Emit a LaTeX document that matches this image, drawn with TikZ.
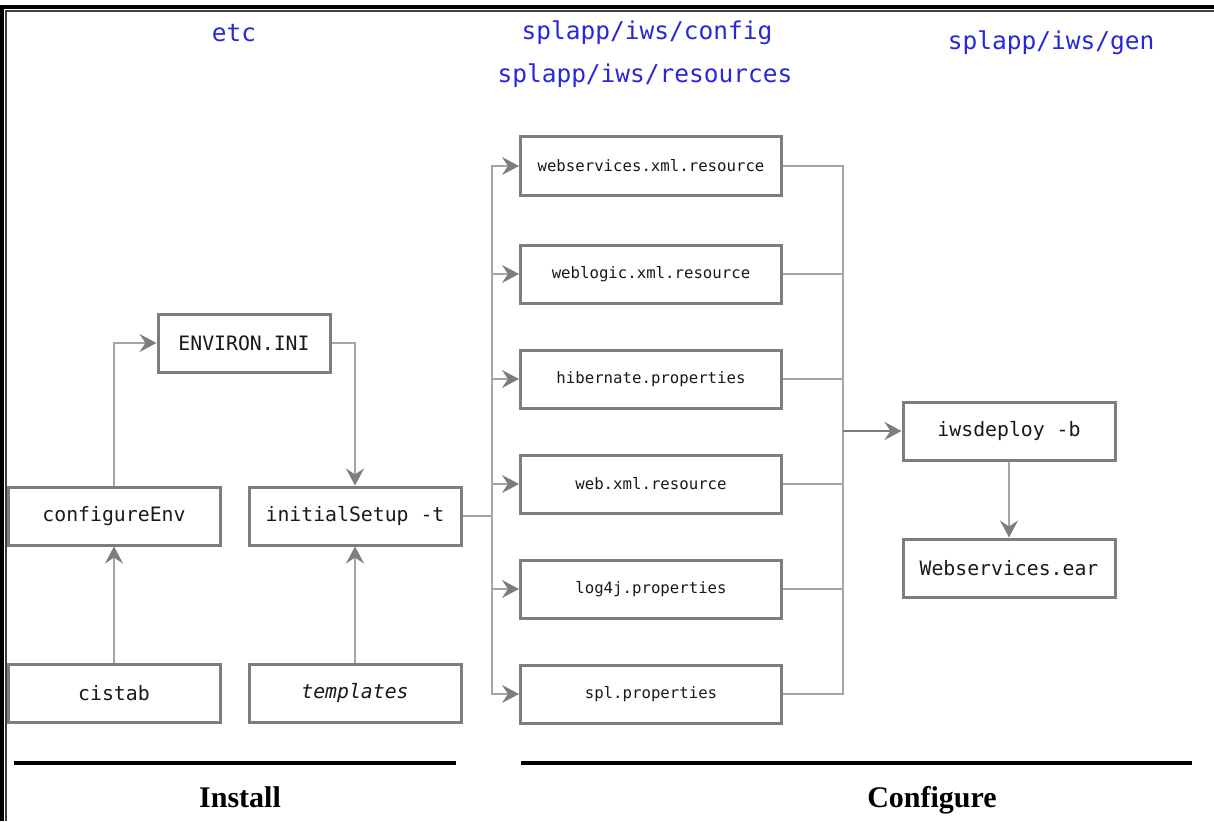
\documentclass[tikz,border=0pt]{standalone}
\usepackage{fontspec}
\setmainfont{Liberation Serif}
\newfontfamily\monofont{DejaVu Sans Mono}
\usetikzlibrary{arrows.meta}
\definecolor{boxgray}{RGB}{125,125,125}
\definecolor{linegray}{RGB}{165,165,165}
\definecolor{tipgray}{RGB}{125,125,125}
\definecolor{dirblue}{RGB}{40,40,215}
\definecolor{txt}{RGB}{25,25,25}
\tikzset{
  bigbox/.style={draw=boxgray, line width=3pt, fill=white, minimum width=212pt, minimum height=58pt, inner sep=0pt, text=txt, font=\monofont\fontsize{19.8}{24}\selectfont},
  smallbox/.style={draw=boxgray, line width=3pt, fill=white, minimum width=261pt, minimum height=58pt, inner sep=0pt, text=txt, font=\monofont\fontsize{15.7}{19}\selectfont},
  envbox/.style={bigbox, minimum width=172pt},
  conn/.style={draw=linegray, line width=2pt},
  arr/.style={conn, -{Stealth[length=17pt, width=18pt, inset=6pt, color=tipgray]}},
  dirlabel/.style={text=dirblue, font=\monofont\fontsize{24.5}{28}\selectfont, inner sep=0pt},
  phase/.style={font=\bfseries\fontsize{30}{34}\selectfont, inner sep=0pt, anchor=base},
  phasebar/.style={line width=4.5pt, black}
}
\begin{document}
\begin{tikzpicture}[x=1pt, y=-1pt]
\useasboundingbox (0,0) rectangle (1214,821);
% frame
\draw[line width=4pt, black] (0,7) -- (1214,7);
\draw[line width=4pt, black] (2,5) -- (2,821);
\draw[line width=2pt, black!75] (6,11) -- (1214,11);
\draw[line width=2pt, black!75] (6,10) -- (6,821);

% directory labels
\node[dirlabel] (letc) at (234,33) {etc};
\node[dirlabel] (lcfg) at (647,33) {splapp/iws/config};
\node[dirlabel] (lres) at (645,76) {splapp/iws/resources};
\node[dirlabel] (lgen) at (1051,43) {splapp/iws/gen};

% install column
\node[envbox] (env) at (244,343) {ENVIRON.INI};
\node[bigbox] (cfg) at (114,516) {configureEnv};
\node[bigbox] (init) at (355,516) {initialSetup -t};
\node[bigbox] (cis) at (114,693) {cistab};
\node[bigbox] (tpl) at (355,693) {\itshape templates};

% configure column
\node[smallbox] (ws) at (651,166) {webservices.xml.resource};
\node[smallbox] (wl) at (651,274) {weblogic.xml.resource};
\node[smallbox] (hb) at (651,379) {hibernate.properties};
\node[smallbox] (wx) at (651,484) {web.xml.resource};
\node[smallbox] (lg) at (651,589) {log4j.properties};
\node[smallbox] (sp) at (651,694) {spl.properties};

\node[bigbox] (iws) at (1009,431) {iwsdeploy -b};
\node[bigbox] (ear) at (1009,568) {Webservices.ear};

% connectors
\draw[arr] (cis.north) -- (cfg.south);
\draw[arr] (tpl.north) -- (init.south);
\draw[arr] (cfg.north) |- (env.west);
\draw[arr] (env.east) -| (init.north);

\coordinate (busL) at (492,516);
\draw[conn] (init.east) -- (busL);
\foreach \n in {ws,wl,hb,wx,lg,sp}{
  \draw[arr] (busL) |- (\n.west);
}
\coordinate (busR) at (843,431);
\foreach \n in {ws,wl,hb,wx,lg,sp}{
  \draw[conn] (\n.east) -| (busR);
}
\draw[arr, draw=tipgray, line width=2.5pt] (busR) -- (iws.west);
\draw[arr] (iws.south) -- (ear.north);

% phase bars
\coordinate (il) at (14,763);
\coordinate (ir) at (456,763);
\coordinate (cl) at (521,763);
\coordinate (cr) at (1192,763);
\draw[phasebar] (il) -- (ir);
\draw[phasebar] (cl) -- (cr);
\node[phase] (inst) at (240,807) {Install};
\node[phase] (conf) at (932,807) {Configure};
\end{tikzpicture}
\end{document}
